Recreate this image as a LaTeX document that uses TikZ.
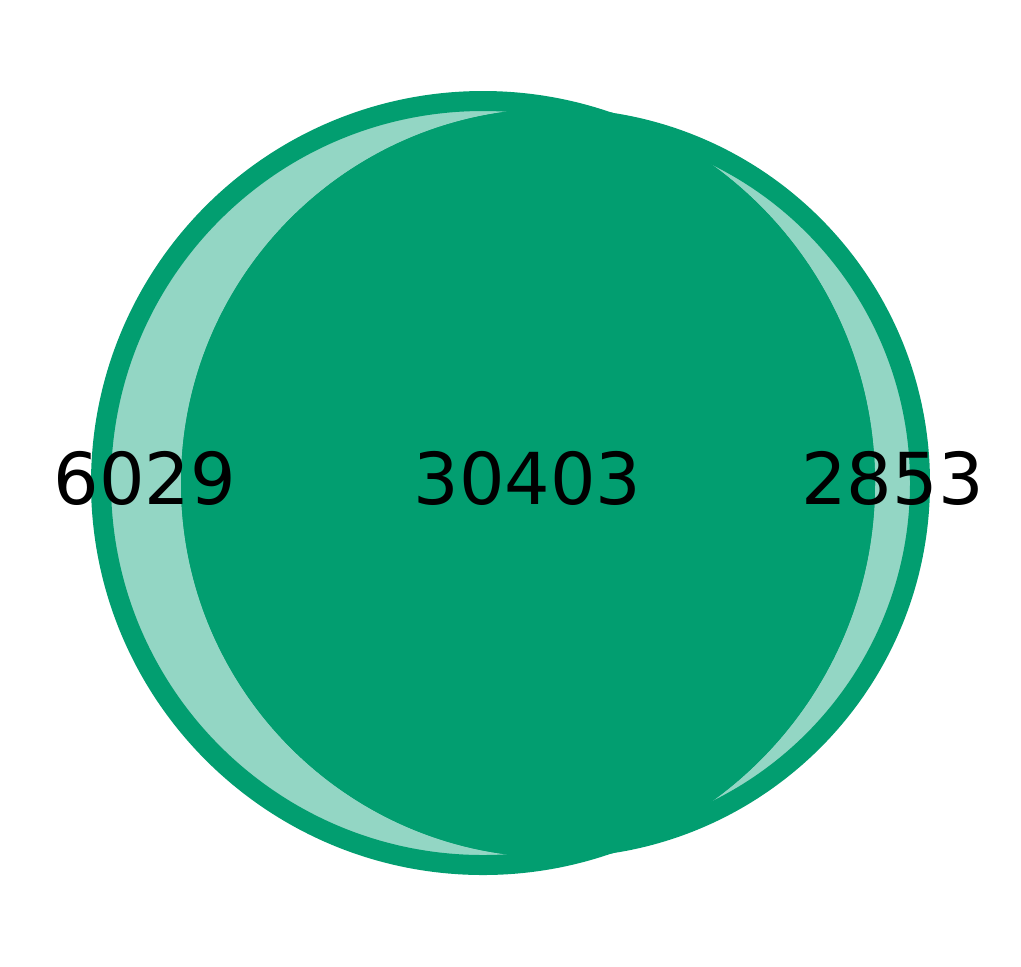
\documentclass[tikz,border=0pt]{standalone}
\usepackage{fontspec}
\setmainfont{DejaVu Sans}
\usetikzlibrary{positioning}
\definecolor{cSet}  {RGB}{2,158,112}
\definecolor{cOnly} {RGB}{147,214,196}
\tikzset{
  setring/.style ={draw=cSet,line width=10pt},
  cnt/.style     ={font=\fontsize{35.8}{40}\selectfont,inner sep=0pt,anchor=base,text=black},
}
\begin{document}
\begin{tikzpicture}[x=0.5pt, y=-0.5pt]
\useasboundingbox (0,0) rectangle (1021,966);

% ===== the two sets ========================================================
\coordinate (ca) at (483,483);
\coordinate (cb) at (555.5,483);
\fill[cOnly] (ca) circle[radius=382];
\fill[cOnly] (cb) circle[radius=364.5];
\draw[setring] (ca) circle[radius=382];
\draw[setring] (cb) circle[radius=364.5];

% ===== overlap =============================================================
\begin{scope}
  \clip (ca) circle[radius=392];
  \fill[cSet] (cb) circle[radius=374.5];
\end{scope}

% ===== counts ==============================================================
\node[cnt] (onlyA) at (145,504)   {6029};
\node[cnt] (both)  at (527.5,504) {30403};
\node[cnt] (onlyB) at (892.5,504) {2853};
\end{tikzpicture}
\end{document}
